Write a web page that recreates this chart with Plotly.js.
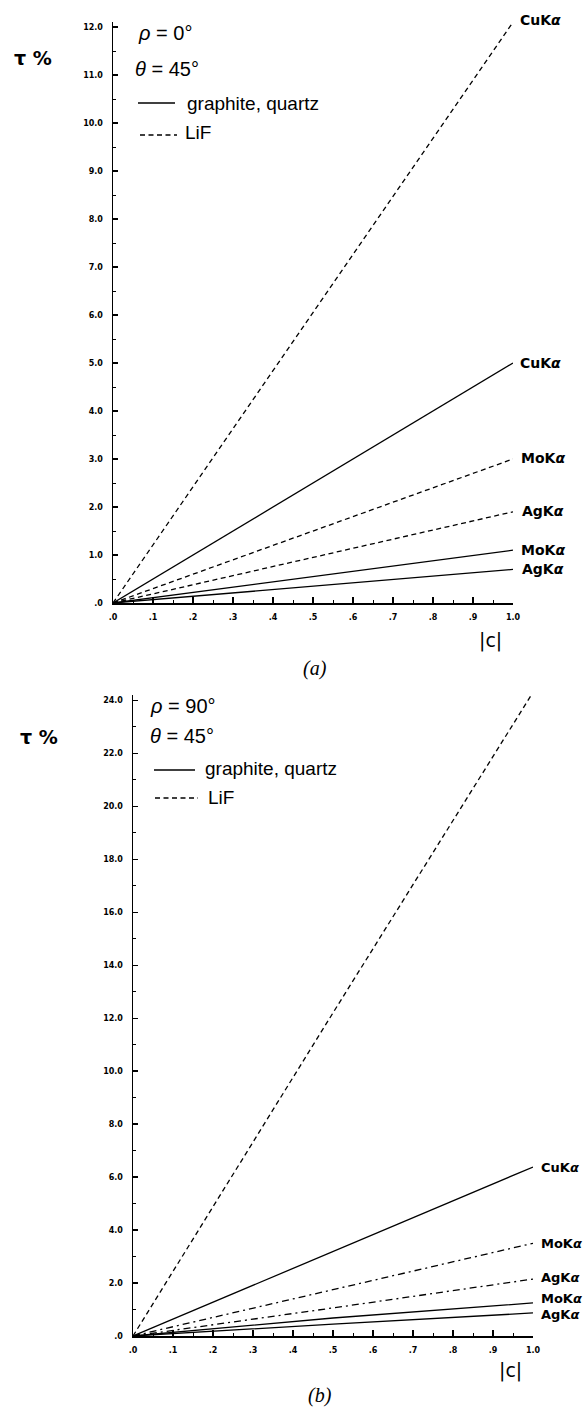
<!DOCTYPE html>
<html><head><meta charset="utf-8">
<script src="https://cdn.plot.ly/plotly-3.0.1.min.js"></script>
<style>html,body{margin:0;padding:0;background:#fff}#chart{width:584px;height:1407px}</style>
</head><body><div id="chart"></div>
<script>
// ---- data ----
const cTop = [0, 1.0];
const topLiFCu = [0, 12.1];
const topLiFMo = [0, 3.0];
const topLiFAg = [0, 1.9];
const topGraCu = [0, 5.0];
const topGraMo = [0, 1.1];
const topGraAg = [0, 0.7];

const cBot = [0, 0.5, 1.0];
const botLiFCu = [0, 12.2, 24.3];
const botLiFMo = [0, 1.75, 3.5];
const botLiFAg = [0, 1.06, 2.15];
const botGraCu = [0, 3.2, 6.38];
const botGraMo = [0, 0.68, 1.25];
const botGraAg = [0, 0.45, 0.87];

const lineNames = ['CuKα','MoKα','AgKα'];
const xTickVals = [0,0.1,0.2,0.3,0.4,0.5,0.6,0.7,0.8,0.9,1.0];
const xTickText = ['.0','.1','.2','.3','.4','.5','.6','.7','.8','.9','1.0'];
const yTopVals = [0,1,2,3,4,5,6,7,8,9,10,11,12];
const yTopText = ['.0','1.0','2.0','3.0','4.0','5.0','6.0','7.0','8.0','9.0','10.0','11.0','12.0'];
const yBotVals = [0,2,4,6,8,10,12,14,16,18,20,22,24];
const yBotText = ['.0','2.0','4.0','6.0','8.0','10.0','12.0','14.0','16.0','18.0','20.0','22.0','24.0'];

// ---- layout helpers ----
const W = 584, H = 1407;
const PX = x => x / W, PY = y => 1 - y / H;
const LW = 1.3;
const dashLiF = '5px,3.5px';
const dashDot = '7px,4px,2px,4px';

function tr(x, y, xa, ya, dash) {
  return {x: x, y: y, xaxis: xa, yaxis: ya, type: 'scatter', mode: 'lines',
    line: {color: '#000', width: LW, dash: dash}, hoverinfo: 'skip', showlegend: false};
}
const data = [
  tr(cTop, topLiFCu, 'x', 'y', dashLiF),
  tr(cTop, topLiFMo, 'x', 'y', dashLiF),
  tr(cTop, topLiFAg, 'x', 'y', dashLiF),
  tr(cTop, topGraCu, 'x', 'y', 'solid'),
  tr(cTop, topGraMo, 'x', 'y', 'solid'),
  tr(cTop, topGraAg, 'x', 'y', 'solid'),
  tr(cBot, botLiFCu, 'x2', 'y2', dashLiF),
  tr(cBot, botLiFMo, 'x2', 'y2', dashDot),
  tr(cBot, botLiFAg, 'x2', 'y2', dashDot),
  tr(cBot, botGraCu, 'x2', 'y2', 'solid'),
  tr(cBot, botGraMo, 'x2', 'y2', 'solid'),
  tr(cBot, botGraAg, 'x2', 'y2', 'solid')
];

const tickFont = {family: 'DejaVu Sans', size: 8, color: '#000', weight: 'bold'};
function xax(dom, anchor) {
  return {domain: dom, anchor: anchor, range: [0, 1.0], showgrid: false, zeroline: false,
    showline: true, linecolor: '#000', linewidth: 1.5, ticks: 'inside', ticklen: 6, tickwidth: 1.3,
    tickcolor: '#000', tickmode: 'array', tickvals: xTickVals, ticktext: xTickText,
    tickfont: tickFont, ticklabelstandoff: 6,
    minor: {dtick: 0.05, ticks: 'inside', ticklen: 3, tickwidth: 1, tickcolor: '#000', showgrid: false},
    fixedrange: true};
}
function yax(dom, anchor, range, vals, text, minorD) {
  return {domain: dom, anchor: anchor, range: range, showgrid: false, zeroline: false,
    showline: true, linecolor: '#000', linewidth: 1.5, ticks: 'inside', ticklen: 5, tickwidth: 1.3,
    tickcolor: '#000', tickmode: 'array', tickvals: vals, ticktext: text,
    tickfont: tickFont, ticklabelstandoff: 7,
    minor: {dtick: minorD, ticks: 'inside', ticklen: 3, tickwidth: 1, tickcolor: '#000', showgrid: false},
    fixedrange: true};
}

const annotations = [];
function txt(x, y, text, size, opts) {
  annotations.push(Object.assign({xref: 'paper', yref: 'paper', x: PX(x), y: PY(y), text: text,
    showarrow: false, xanchor: 'left', yanchor: 'middle',
    font: {family: 'Liberation Sans', size: size, color: '#000'}}, opts || {}));
}
function endLabel(xa, ya, xs, vals, name, xshift, yshift, size) {
  annotations.push({xref: xa, yref: ya, x: xs[xs.length - 1], y: vals[vals.length - 1],
    text: name.replace('α', '<i>α</i>'), showarrow: false, xanchor: 'left', yanchor: 'middle',
    xshift: xshift, yshift: yshift || 0,
    font: {family: 'DejaVu Sans', size: size || 14, color: '#000', weight: 'bold'}});
}
// end labels top
endLabel('x', 'y', cTop, topLiFCu, lineNames[0], 5, 2);
endLabel('x', 'y', cTop, topGraCu, lineNames[0], 5, 0);
endLabel('x', 'y', cTop, topLiFMo, lineNames[1], 6, 1);
endLabel('x', 'y', cTop, topLiFAg, lineNames[2], 7, 1);
endLabel('x', 'y', cTop, topGraMo, lineNames[1], 6, 0);
endLabel('x', 'y', cTop, topGraAg, lineNames[2], 7, 0);
// end labels bottom (tight to the right edge, as in the reference)
endLabel('x2', 'y2', cBot, botLiFCu, lineNames[0], 3, 0, 13);
endLabel('x2', 'y2', cBot, botGraCu, lineNames[0], 6, 0, 13);
endLabel('x2', 'y2', cBot, botLiFMo, lineNames[1], 6, 0, 13);
endLabel('x2', 'y2', cBot, botLiFAg, lineNames[2], 6, 2, 13);
endLabel('x2', 'y2', cBot, botGraMo, lineNames[1], 6, 4, 13);
endLabel('x2', 'y2', cBot, botGraAg, lineNames[2], 6, -2, 13);

// legend-like text, top
txt(136, 33, '<i>ρ</i> = 0°', 20);
txt(133, 69, '<i>θ</i> = 45°', 20);
txt(185, 103, 'graphite, quartz', 19);
txt(183, 132, 'LiF', 19);
// bottom
txt(148, 706, '<i>ρ</i> = 90°', 20);
txt(148, 736, '<i>θ</i> = 45°', 20);
txt(203, 768, 'graphite, quartz', 19);
txt(206, 797, 'LiF', 19);
// axis titles
txt(12, 58, '<b>τ %</b>', 19, {font: {family: 'DejaVu Sans', size: 19, color: '#000'}});
txt(18, 737, '<b>τ %</b>', 19, {font: {family: 'DejaVu Sans', size: 19, color: '#000'}});
txt(490, 640, '|c|', 20, {xanchor: 'center', font: {family: 'DejaVu Sans', size: 19, color: '#000'}});
txt(510, 1370, '|c|', 20, {xanchor: 'center', font: {family: 'DejaVu Sans', size: 19, color: '#000'}});
// captions
txt(315, 668, '<i>(a)</i>', 20, {xanchor: 'center', font: {family: 'Liberation Serif', size: 20, color: '#000'}});
txt(320, 1395, '<i>(b)</i>', 20, {xanchor: 'center', font: {family: 'Liberation Serif', size: 20, color: '#000'}});

function seg(x0, x1, y, dash) {
  return {type: 'line', xref: 'paper', yref: 'paper', x0: PX(x0), x1: PX(x1), y0: PY(y), y1: PY(y),
    line: {color: '#000', width: 1.5, dash: dash}};
}
const shapes = [
  seg(138, 175, 103, 'solid'),
  seg(140, 177, 135, dashLiF),
  seg(154, 195, 770, 'solid'),
  seg(155, 198, 798, dashLiF)
];

const layout = {
  width: W, height: H, margin: {l: 0, r: 0, t: 0, b: 0},
  paper_bgcolor: '#fff', plot_bgcolor: 'rgba(0,0,0,0)', showlegend: false,
  xaxis: xax([PX(113), PX(513)], 'y'),
  yaxis: yax([PY(603), PY(22.2)], 'x', [0, 12.1], yTopVals, yTopText, 0.5),
  xaxis2: xax([PX(133), PX(533)], 'y2'),
  yaxis2: yax([PY(1336), PY(695)], 'x2', [0, 24.2], yBotVals, yBotText, 1),
  annotations: annotations, shapes: shapes
};
Plotly.newPlot('chart', data, layout, {displayModeBar: false, staticPlot: true});
</script></body></html>
